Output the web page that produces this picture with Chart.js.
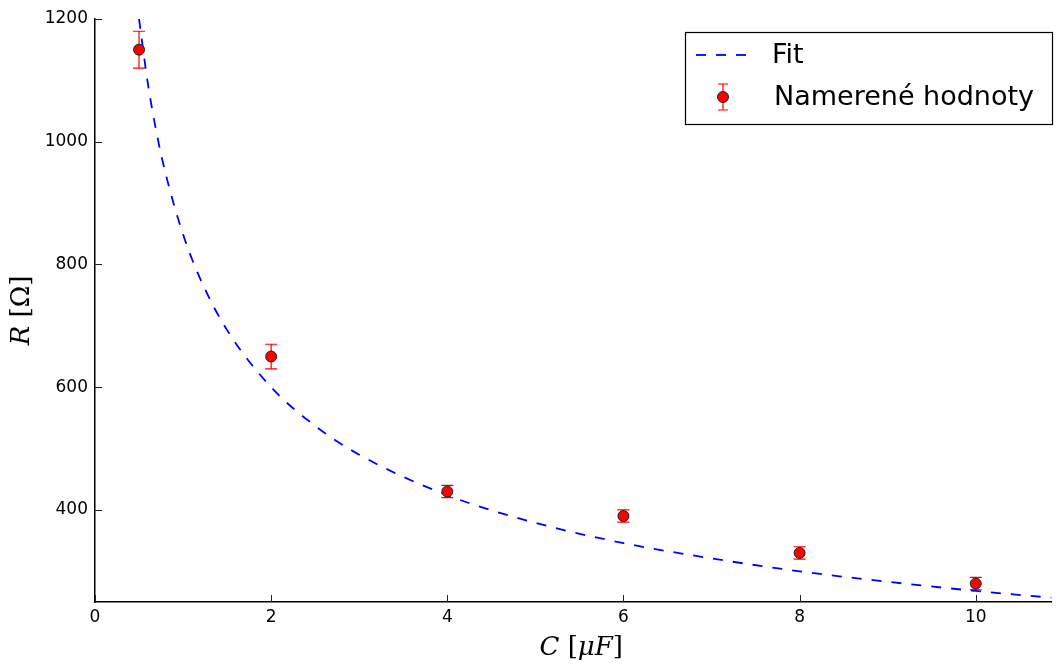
<!DOCTYPE html>
<html>
<head>
<meta charset="utf-8">
<script src="https://cdn.jsdelivr.net/npm/chart.js@4.4.1/dist/chart.umd.min.js"></script>
<style>
html,body{margin:0;padding:0;background:#fff;}
#wrap{width:1058px;height:665px;position:relative;}
</style>
</head>
<body>
<div id="wrap"><canvas id="c"></canvas></div>
<script>
// measured values
const measC=[0.5,2,4,6,8,10];
const measR=[1150,650,430,390,330,280];
const measErr=[30,20,10,10,10,10];
// fit curve
const fitC=[0.5,0.6,0.7,0.8,1.0,1.2,1.5,2,2.5,3,4,5,6,7,8,9,10,10.86];
const fitR=[1200,1095,1014,949,849,775,693,600,537,490,424,379,346,321,300,283,268,257];
const xTicks=[0,2,4,6,8,10];
const yTicks=[400,600,800,1000,1200];
const fitLabel='Fit';
const measLabel='Namerené hodnoty';

const SANS='"DejaVu Sans", sans-serif';
const SERIF='"DejaVu Serif", serif';

const errPlugin={
  id:'err',
  beforeDatasetsDraw(ch){
    const c=ch.ctx,xs=ch.scales.x,ys=ch.scales.y;
    c.save();
    c.strokeStyle='#ff0000';c.lineWidth=1.2;
    measC.forEach((v,i)=>{
      const x=xs.getPixelForValue(v);
      const y1=ys.getPixelForValue(measR[i]+measErr[i]);
      const y2=ys.getPixelForValue(measR[i]-measErr[i]);
      c.beginPath();
      c.moveTo(x,y1);c.lineTo(x,y2);
      c.moveTo(x-6,y1);c.lineTo(x+6,y1);
      c.moveTo(x-6,y2);c.lineTo(x+6,y2);
      c.stroke();
    });
    c.restore();
  }
};

const decoPlugin={
  id:'deco',
  afterDraw(ch){
    const c=ch.ctx,xs=ch.scales.x,ys=ch.scales.y,a=ch.chartArea;
    c.save();
    // inward ticks
    c.strokeStyle='#222';c.lineWidth=1;
    xTicks.forEach(v=>{
      const x=Math.round(xs.getPixelForValue(v))+0.5;
      c.beginPath();c.moveTo(x,a.bottom);c.lineTo(x,a.bottom-7);c.stroke();
    });
    yTicks.forEach(v=>{
      const y=Math.round(ys.getPixelForValue(v))+0.5;
      c.beginPath();c.moveTo(a.left,y);c.lineTo(a.left+7,y);c.stroke();
    });
    // x title: C [μF]
    c.fillStyle='#000';c.textBaseline='middle';
    const parts=[['italic 26px '+SERIF,'C'],['26px '+SERIF,' ['],['italic 26px '+SERIF,'μF'],['26px '+SERIF,']']];
    let w=0;parts.forEach(p=>{c.font=p[0];w+=c.measureText(p[1]).width;});
    let x=(a.left+a.right)/2+8-w/2;
    parts.forEach(p=>{c.font=p[0];c.textAlign='left';c.fillText(p[1],x,648);x+=c.measureText(p[1]).width;});
    // y title: R [Ω]
    c.save();
    c.translate(22,(a.top+a.bottom)/2);
    c.rotate(-Math.PI/2);
    const yp=[['italic 26px '+SERIF,'R'],['26px '+SERIF,' [Ω]']];
    w=0;yp.forEach(p=>{c.font=p[0];w+=c.measureText(p[1]).width;});
    x=-w/2;
    yp.forEach(p=>{c.font=p[0];c.fillText(p[1],x,0);x+=c.measureText(p[1]).width;});
    c.restore();
    // legend
    const lx=685,ly=32,lw=367,lh=92;
    c.fillStyle='#fff';c.fillRect(lx,ly,lw,lh);
    c.strokeStyle='#000';c.lineWidth=1.2;c.strokeRect(lx+0.5,ly+0.5,lw,lh);
    c.strokeStyle='#0000ff';c.lineWidth=1.8;c.setLineDash([10,10]);
    c.beginPath();c.moveTo(696,55);c.lineTo(750,55);c.stroke();
    c.setLineDash([]);
    c.strokeStyle='#ff0000';c.lineWidth=1.2;
    c.beginPath();c.moveTo(723,84);c.lineTo(723,110);
    c.moveTo(718,84);c.lineTo(728,84);c.moveTo(718,110);c.lineTo(728,110);c.stroke();
    c.beginPath();c.arc(723,97,5.5,0,Math.PI*2);
    c.fillStyle='#ff0000';c.fill();c.strokeStyle='#222';c.lineWidth=1;c.stroke();
    c.fillStyle='#000';c.font='27px '+SANS;c.textAlign='left';c.textBaseline='middle';
    c.fillText(fitLabel,772,56);
    c.fillText(measLabel,774,98);
    c.restore();
  }
};

new Chart(document.getElementById('c'),{
  data:{datasets:[
    {type:'line',label:fitLabel,data:fitC.map((v,i)=>({x:v,y:fitR[i]})),borderColor:'#0000ff',borderWidth:1.8,borderDash:[10,10],pointRadius:0,fill:false,cubicInterpolationMode:'monotone',order:2},
    {type:'scatter',label:measLabel,data:measC.map((v,i)=>({x:v,y:measR[i]})),backgroundColor:'#ff0000',borderColor:'#222',borderWidth:1,pointRadius:5.5,order:1}
  ]},
  options:{
    responsive:true,maintainAspectRatio:false,animation:false,
    layout:{padding:{top:19,right:2,left:0,bottom:0}},
    plugins:{legend:{display:false},tooltip:{enabled:false}},
    scales:{
      x:{type:'linear',min:0,max:10.86,
        afterBuildTicks:s=>{s.ticks=xTicks.map(v=>({value:v}));},
        afterFit:s=>{s.height=63;},
        grid:{display:false,drawTicks:false},
        border:{display:true,color:'#000',width:1.5},
        ticks:{color:'#000',font:{family:SANS,size:17},padding:5,maxRotation:0,callback:v=>String(v)}},
      y:{type:'linear',min:250,max:1200,
        afterBuildTicks:s=>{s.ticks=yTicks.map(v=>({value:v}));},
        afterFit:s=>{s.width=95;},
        grid:{display:false,drawTicks:false},
        border:{display:true,color:'#000',width:1.5},
        ticks:{color:'#000',font:{family:SANS,size:17},padding:7,callback:v=>String(v)}}
    }
  },
  plugins:[errPlugin,decoPlugin]
});
</script>
</body>
</html>
